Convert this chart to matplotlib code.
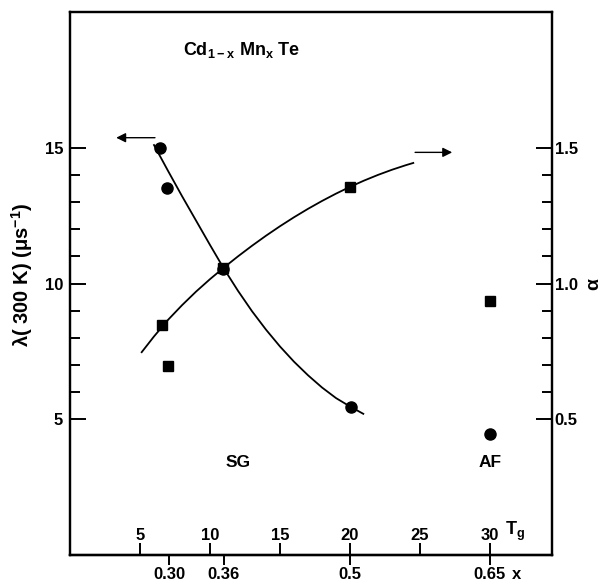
import matplotlib
matplotlib.use("Agg")
import matplotlib.pyplot as plt
import numpy as np

plt.rcParams['font.family'] = ['Liberation Sans', 'DejaVu Sans']
plt.rcParams['font.weight'] = 'bold'
plt.rcParams['mathtext.default'] = 'regular'

# ---------------- data (x axis in T_g units) ----------------
tg_ticks = [5, 10, 15, 20, 25, 30]
tg_labels = ['5', '10', '15', '20', '25', '30']
comp_pos = [7.07, 11.0, 20.0, 30.0]          # where the compositions sit on the T_g scale
comp_labels = ['0.30', '0.36', '0.5', '0.65']

# lambda (left axis, circles)
lam_tg = [6.4, 6.95, 10.95, 20.1, 30.0]
lam_val = [15.0, 13.5, 10.55, 5.45, 4.45]

# alpha (right axis, squares)
alp_tg = [6.6, 7.0, 10.95, 20.0, 30.0]
alp_val = [0.846, 0.695, 1.058, 1.354, 0.935]

# hand-drawn guide curves
lam_curve_tg = [6.0, 7.0, 8.0, 9.0, 10.0, 11.0, 12.0, 13.0, 14.0, 15.0, 16.0, 17.0, 18.0, 19.0, 20.0, 20.95]
lam_curve_val = [15.1, 14.15, 13.22, 12.32, 11.42, 10.54, 9.73, 8.98, 8.3, 7.68, 7.12, 6.62, 6.17, 5.78, 5.47, 5.2]
alp_curve_tg = [5.12, 6.0, 7.0, 8.0, 9.0, 10.0, 11.0, 12.0, 13.0, 14.0, 15.0, 16.0, 17.0, 18.0,
                19.0, 20.0, 21.0, 22.0, 23.0, 24.0, 24.52]
alp_curve_val = [0.747, 0.805, 0.866, 0.920, 0.970, 1.016, 1.059, 1.100, 1.139, 1.176, 1.211, 1.244,
                 1.275, 1.304, 1.331, 1.356, 1.379, 1.400, 1.419, 1.436, 1.444]

# direction arrows (start -> end)
arrow_left = [(6.07, 15.37), (3.3, 15.37)]
arrow_right = [(24.65, 14.83), (27.3, 14.83)]

lam_major = [5, 10, 15]
lam_minor = [6, 7, 8, 9, 11, 12, 13, 14]
alp_major = [0.5, 1.0, 1.5]
alp_major_labels = ['0.5', '1.0', '1.5']
alp_minor = [0.6, 0.7, 0.8, 0.9, 1.1, 1.2, 1.3, 1.4]

# ---------------- figure ----------------
W, H = 603, 584
fig = plt.figure(figsize=(W / 100, H / 100), dpi=100)
L, R, T, B = 70, 552, 12, 555
ax = fig.add_axes([L / W, (H - B) / H, (R - L) / W, (B - T) / H])
ax.set_xlim(0, (R - L) / 14.0)
ax.set_ylim(0, 20)
for s in ax.spines.values():
    s.set_linewidth(1.6)

fs = 12
# left axis
ax.set_yticks(lam_major, [str(v) for v in lam_major])
ax.set_yticks(lam_minor, minor=True)
ax.tick_params(axis='y', which='major', direction='in', length=11.5, width=1.4, pad=5, labelsize=fs)
ax.tick_params(axis='y', which='minor', direction='in', length=7, width=1.4)
ax.set_ylabel('λ( 300 K) (μs$^{-1}$)', fontsize=14.5, fontweight='bold')
ax.yaxis.set_label_coords((35 - L) / (R - L), 0.515)

# T_g ticks (inside, labels above the spine)
ax.set_xticks(tg_ticks, tg_labels)
ax.tick_params(axis='x', which='major', direction='in', length=8.6, width=1.4, pad=-19.5, labelsize=fs)
ax.annotate('T$_g$', xy=(tg_ticks[-1], 0), xycoords='data', xytext=(10.5, 8.6),
            textcoords='offset points', ha='left', va='bottom', fontsize=fs + 1, fontweight='bold')

# composition ticks (outside)
sec = ax.secondary_xaxis('bottom')
sec.set_xticks(comp_pos, comp_labels)
sec.tick_params(axis='x', direction='out', length=7.2, width=1.4, pad=1.5, labelsize=fs)
sec.spines['bottom'].set_linewidth(1.6)
ax.annotate('x', xy=(comp_pos[-1], 0), xycoords='data', xytext=(16, -8.5),
            textcoords='offset points', ha='left', va='top', fontsize=fs, fontweight='bold')

# right axis
axr = ax.twinx()
axr.set_ylim(0, 2.0)
axr.set_yticks(alp_major, alp_major_labels)
axr.set_yticks(alp_minor, minor=True)
axr.tick_params(axis='y', which='major', direction='in', length=11.5, width=1.4, pad=2, labelsize=fs)
axr.tick_params(axis='y', which='minor', direction='in', length=7, width=1.4)
axr.set_ylabel('α', fontsize=14, fontweight='bold', rotation=90)
axr.yaxis.set_label_coords((585 - L) / (R - L), 0.5)
for s in axr.spines.values():
    s.set_linewidth(1.6)

# curves and points
ax.plot(lam_curve_tg, lam_curve_val, color='black', lw=1.3)
axr.plot(alp_curve_tg, alp_curve_val, color='black', lw=1.3)
ax.plot(lam_tg, lam_val, 'o', color='black', ms=8, mec='black')
axr.plot(alp_tg, alp_val, 's', color='black', ms=7.5, mec='black')

# arrows
ax.annotate('', xy=arrow_left[1], xytext=arrow_left[0],
            arrowprops=dict(arrowstyle='-|>', color='black', lw=1.0, mutation_scale=14, shrinkA=0, shrinkB=0))
ax.annotate('', xy=arrow_right[1], xytext=arrow_right[0],
            arrowprops=dict(arrowstyle='-|>', color='black', lw=1.0, mutation_scale=14, shrinkA=0, shrinkB=0))

# texts
ax.text(8.1, 18.6, 'Cd$_{1-x}$ Mn$_x$ Te', fontsize=13, fontweight='bold', ha='left', va='center')
ax.text(12.0, 3.4, 'SG', fontsize=12.5, fontweight='bold', ha='center', va='center')
ax.text(30.0, 3.4, 'AF', fontsize=12.5, fontweight='bold', ha='center', va='center')

fig.savefig('out.png', dpi=100)
